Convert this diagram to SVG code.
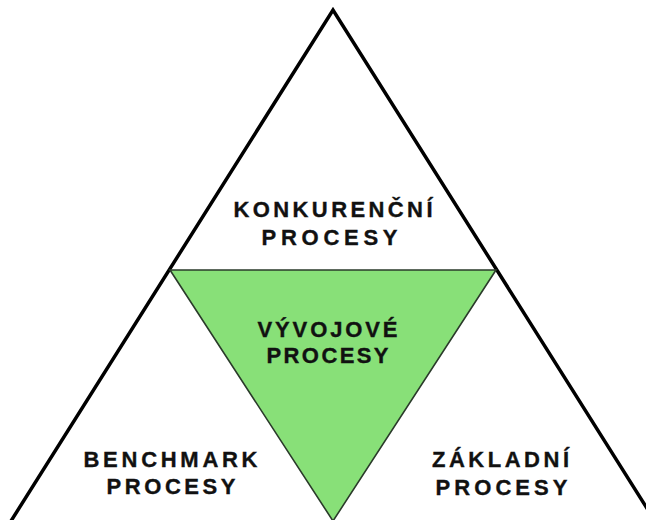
<svg xmlns="http://www.w3.org/2000/svg" width="646" height="520" viewBox="0 0 646 520">
<style>
.t{font-family:"Liberation Sans",Arial,sans-serif;font-weight:bold;font-size:22px;fill:#111;stroke:#111;stroke-width:0.35}
</style>
<rect width="646" height="520" fill="#fff"/>
<g id="outer">
<polyline points="11,521 333,10 655,521" fill="none" stroke="#000" stroke-width="3.5" stroke-linejoin="miter"/>
</g>
<g id="inner">
<polygon points="170,270 496,270 333,521" fill="#88e078" stroke="#2a3a2a" stroke-width="1.6"/>
</g>
<g id="konkurencni">
<text class="t" x="233.5" y="217" textLength="199" lengthAdjust="spacing">KONKURENČNÍ</text>
<text class="t" x="261.5" y="245" textLength="136" lengthAdjust="spacing">PROCESY</text>
</g>
<g id="vyvojove">
<text class="t" x="257.5" y="337" textLength="140" lengthAdjust="spacing">VÝVOJOVÉ</text>
<text class="t" x="266.5" y="363" textLength="122" lengthAdjust="spacing">PROCESY</text>
</g>
<g id="benchmark">
<text class="t" x="83.5" y="467" textLength="174" lengthAdjust="spacing">BENCHMARK</text>
<text class="t" x="106.5" y="494" textLength="129" lengthAdjust="spacing">PROCESY</text>
</g>
<g id="zakladni">
<text class="t" x="432" y="467" textLength="137" lengthAdjust="spacing">ZÁKLADNÍ</text>
<text class="t" x="435.5" y="495" textLength="132" lengthAdjust="spacing">PROCESY</text>
</g>
</svg>
